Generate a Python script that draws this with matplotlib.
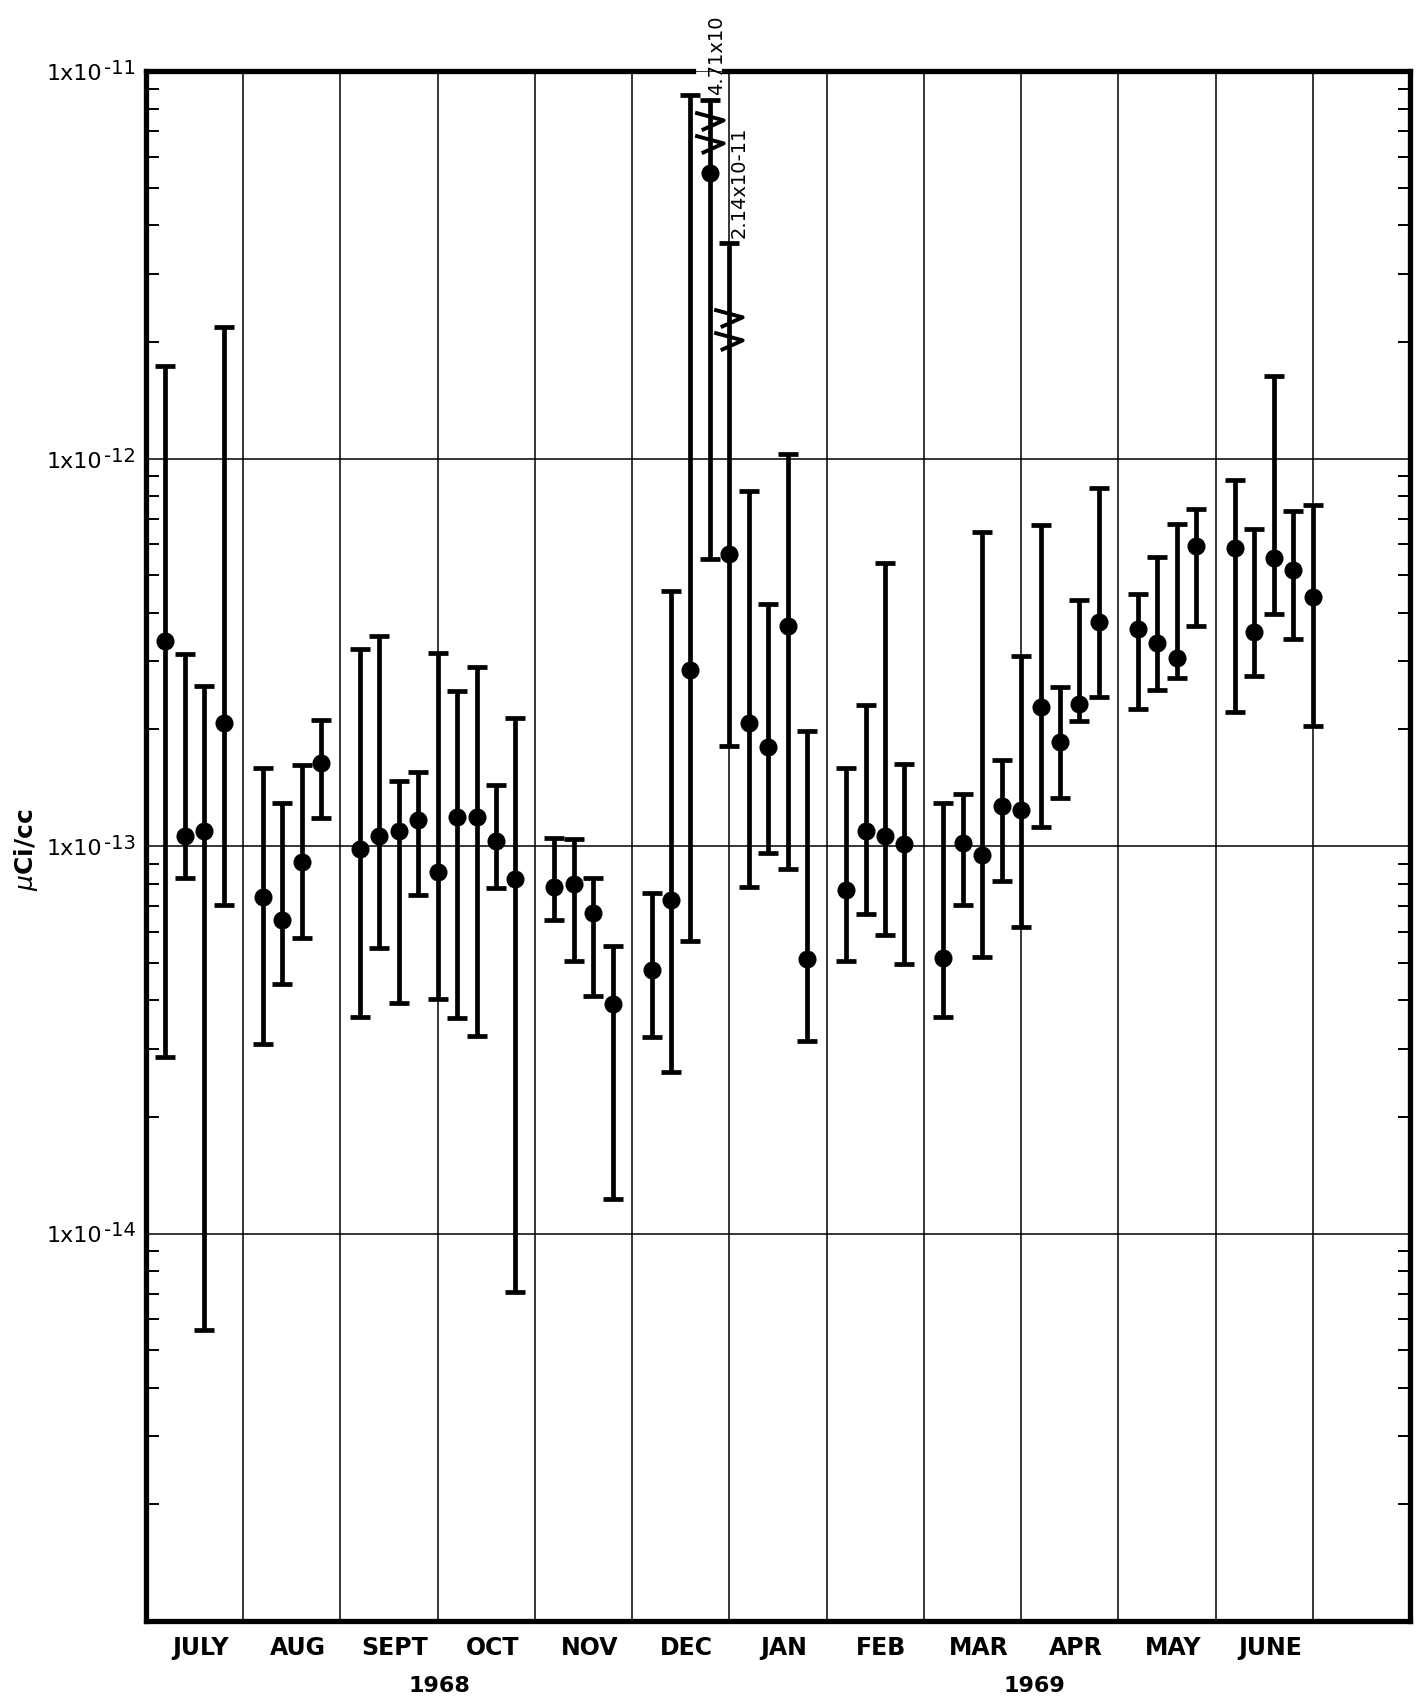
import numpy as np
import matplotlib
matplotlib.use('Agg')
import matplotlib.pyplot as plt
import matplotlib.transforms as mtransforms
from matplotlib.path import Path
from matplotlib.ticker import LogLocator, NullFormatter

# ---------------- data ----------------
months = ['JULY', 'AUG', 'SEPT', 'OCT', 'NOV', 'DEC',
          'JAN', 'FEB', 'MAR', 'APR', 'MAY', 'JUNE']
weeks_per_month = [4, 4, 5, 4, 4, 5, 4, 4, 5, 4, 4, 5]
years = ['1968', '1969']

center = [3.39e-13, 1.06e-13, 1.09e-13, 2.08e-13,
          7.4e-14, 6.44e-14, 9.1e-14, 1.64e-13,
          9.8e-14, 1.06e-13, 1.09e-13, 1.17e-13, 8.57e-14,
          1.19e-13, 1.19e-13, 1.03e-13, 8.2e-14,
          7.85e-14, 7.96e-14, 6.73e-14, 3.92e-14,
          4.8e-14, 7.26e-14, 2.85e-13, 5.46e-12, 5.67e-13,
          2.08e-13, 1.8e-13, 3.7e-13, 5.12e-14,
          7.69e-14, 1.09e-13, 1.06e-13, 1.01e-13,
          5.13e-14, 1.02e-13, 9.5e-14, 1.27e-13, 1.24e-13,
          2.29e-13, 1.86e-13, 2.32e-13, 3.78e-13,
          3.63e-13, 3.34e-13, 3.05e-13, 5.93e-13,
          5.86e-13, 3.56e-13, 5.52e-13, 5.16e-13, 4.4e-13]

upper = [1.73e-12, 3.13e-13, 2.58e-13, 2.19e-12,
         1.59e-13, 1.29e-13, 1.62e-13, 2.11e-13,
         3.22e-13, 3.49e-13, 1.47e-13, 1.55e-13, 3.14e-13,
         2.51e-13, 2.89e-13, 1.44e-13, 2.14e-13,
         1.05e-13, 1.04e-13, 8.28e-14, 5.52e-14,
         7.58e-14, 4.55e-13, 8.65e-12, 4.71e-11, 2.14e-11,
         8.24e-13, 4.21e-13, 1.03e-12, 1.98e-13,
         1.59e-13, 2.31e-13, 5.38e-13, 1.63e-13,
         1.29e-13, 1.36e-13, 6.46e-13, 1.67e-13, 3.09e-13,
         6.73e-13, 2.57e-13, 4.31e-13, 8.38e-13,
         4.47e-13, 5.58e-13, 6.77e-13, 7.4e-13,
         8.8e-13, 6.58e-13, 1.63e-12, 7.3e-13, 7.58e-13]

lower = [2.85e-14, 8.26e-14, 5.65e-15, 7.05e-14,
         3.08e-14, 4.4e-14, 5.8e-14, 1.18e-13,
         3.62e-14, 5.46e-14, 3.93e-14, 7.48e-14, 4.04e-14,
         3.6e-14, 3.24e-14, 7.8e-14, 7.05e-15,
         6.45e-14, 5.06e-14, 4.1e-14, 1.23e-14,
         3.22e-14, 2.61e-14, 5.69e-14, 5.5e-13, 1.81e-13,
         7.85e-14, 9.57e-14, 8.7e-14, 3.13e-14,
         5.06e-14, 6.68e-14, 5.89e-14, 4.97e-14,
         3.63e-14, 7.06e-14, 5.17e-14, 8.1e-14, 6.17e-14,
         1.12e-13, 1.33e-13, 2.1e-13, 2.42e-13,
         2.26e-13, 2.53e-13, 2.71e-13, 3.7e-13,
         2.22e-13, 2.74e-13, 3.96e-13, 3.43e-13, 2.04e-13]

# off-scale upper limits (bar drawn with a break)
broken_index = [24, 25]
broken_text = ['4.71x10', '2.14x10-11']
broken_cap = [8.4e-12, 3.6e-12]
broken_mark = [6.9e-12, 2.15e-12]

decades = [1e-11, 1e-12, 1e-13, 1e-14]

# ---------------- figure ----------------
W, H = 1425, 1698
fig = plt.figure(figsize=(W / 100, H / 100), dpi=100)
fig.patch.set_facecolor('white')
ax = fig.add_axes([146 / W, 77 / H, 1264 / W, 1550 / H])

x = []
for i, n in enumerate(weeks_per_month):
    x.extend(5 * i + k for k in range(1, n + 1))
x = np.array(x, dtype=float)
c = np.array(center)
up = np.array(upper)
lo = np.array(lower)
up_disp = up.copy()
for i, cap in zip(broken_index, broken_cap):
    up_disp[i] = cap

ax.set_yscale('log')
ax.set_xlim(0, 65)
ax.set_ylim(1e-15, 1e-11)

ax.errorbar(x, c, yerr=[c - lo, up_disp - c], fmt='o', color='black',
            ms=12, elinewidth=3.4, capsize=7.5, capthick=3.4, zorder=3)

# break marks (two stacked chevrons)
zig = Path([(-0.7, 0.95), (0.6, 0.6), (-0.4, 0.15),
            (-0.7, -0.1), (0.6, -0.45), (-0.4, -0.9)],
           [Path.MOVETO, Path.LINETO, Path.LINETO] * 2)
ax.plot(x[broken_index], broken_mark, ls='none', marker=zig, ms=30,
        mfc='none', mec='black', mew=2.8, zorder=4)

for i, s, cap in zip(broken_index, broken_text, broken_cap):
    tr = ax.transData + mtransforms.ScaledTranslation(0, 5 / 100, fig.dpi_scale_trans)
    ax.text(x[i] + 0.32 + (0.18 if i == broken_index[1] else 0), cap, s,
            rotation=90, ha='center', va='bottom', fontsize=14,
            transform=tr, clip_on=False, zorder=5)

# grid and ticks
ax.set_xticks(np.arange(5, 65, 5))
ax.set_xticklabels([])
ax.tick_params(axis='x', which='both', length=0)
ax.grid(True, which='major', color='black', lw=1.1, zorder=1)
ax.set_axisbelow(True)

ax.yaxis.set_minor_locator(LogLocator(base=10, subs=np.arange(2, 10)))
ax.yaxis.set_minor_formatter(NullFormatter())
ax.tick_params(axis='y', which='both', direction='in', left=True, right=True,
               labelleft=False, labelright=False, width=1.4, color='black')
ax.tick_params(axis='y', which='major', length=0)
ax.tick_params(axis='y', which='minor', length=9)

for s in ['left', 'bottom', 'right']:
    ax.spines[s].set_linewidth(3.8)
ax.spines['top'].set_visible(False)
topt = mtransforms.blended_transform_factory(ax.transData, ax.transAxes)
gx = x[broken_index[0]]
ax.plot([0, gx - 0.85], [1, 1], transform=topt, color='black', lw=3.8,
        clip_on=False, solid_capstyle='projecting', zorder=6)
ax.plot([gx + 0.7, 65], [1, 1], transform=topt, color='black', lw=3.8,
        clip_on=False, solid_capstyle='projecting', zorder=6)

# y decade labels: "1x10" followed by a raised exponent
renderer = fig.canvas.get_renderer()
ybase = mtransforms.blended_transform_factory(ax.transAxes, ax.transData)
for v in decades:
    e = int(round(np.log10(v)))
    sup_tr = ybase + mtransforms.ScaledTranslation(-10 / 100, -3 / 100, fig.dpi_scale_trans)
    t_sup = ax.text(0, v, str(e), transform=sup_tr, ha='right', va='baseline',
                    fontsize=14, clip_on=False)
    wpx = t_sup.get_window_extent(renderer).width
    main_tr = ybase + mtransforms.ScaledTranslation((-10 - wpx - 2) / 100, -9 / 100,
                                                    fig.dpi_scale_trans)
    ax.text(0, v, '1x10', transform=main_tr, ha='right', va='baseline',
            fontsize=16, clip_on=False)

# month labels
mtr = mtransforms.blended_transform_factory(ax.transData, ax.transAxes) + \
    mtransforms.ScaledTranslation(0, -34 / 100, fig.dpi_scale_trans)
for i, m in enumerate(months):
    ax.text(5 * i + 2.5 + 0.3, 0, m, transform=mtr, ha='center', va='baseline',
            fontsize=17, fontweight='bold', clip_on=False)

# year labels
yrtr = mtransforms.blended_transform_factory(ax.transData, ax.transAxes) + \
    mtransforms.ScaledTranslation(0, -71 / 100, fig.dpi_scale_trans)
for xc, yl in zip([15.1, 45.7], years):
    ax.text(xc, 0, yl, transform=yrtr, ha='center', va='baseline',
            fontsize=16, fontweight='bold', clip_on=False)

fig.text(26 / W, 1 - 850 / H, r'$\mu$Ci/cc', rotation=90, fontsize=18,
         fontweight='bold', ha='center', va='center')

fig.savefig('out.png', dpi=100, facecolor='white')
